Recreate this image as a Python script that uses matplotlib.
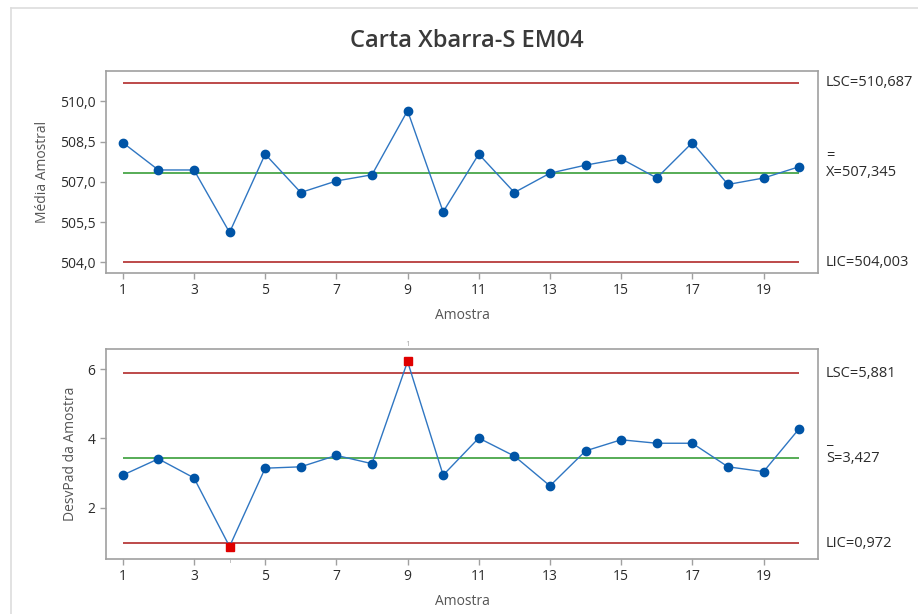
import matplotlib.pyplot as plt
from matplotlib.lines import Line2D

# dados das amostras
amostras = list(range(1, 21))
medias = [508.46, 507.44, 507.44, 505.11, 508.03, 506.60, 507.03, 507.26, 509.65, 505.88,
          508.03, 506.60, 507.32, 507.62, 507.86, 507.14, 508.46, 506.90, 507.14, 507.56]
desvios = [2.94, 3.41, 2.86, 0.88, 3.14, 3.18, 3.51, 3.27, 6.22, 2.94,
           4.01, 3.49, 2.63, 3.64, 3.96, 3.86, 3.86, 3.18, 3.04, 4.28]

# limites de controle
xbar_lsc, xbar_lc, xbar_lic = 510.687, 507.345, 504.003
s_lsc, s_lc, s_lic = 5.881, 3.427, 0.972
fora_controle = [4, 9]  # amostras fora dos limites na carta S

x_ticks = [1, 3, 5, 7, 9, 11, 13, 15, 17, 19]
xbar_ticks = [504.0, 505.5, 507.0, 508.5, 510.0]
s_ticks = [2, 4, 6]

plt.rcParams['font.family'] = ['Open Sans', 'DejaVu Sans']

COR_LINHA = '#2f76c2'
COR_PONTO = '#0054a6'
COR_LIM = '#b22a2a'
COR_CENTRO = '#3a9e3a'
COR_EIXO = '#a0a0a0'
COR_TXT = '#2b2b2b'

fig = plt.figure(figsize=(9.18, 6.14), dpi=100)

# moldura cinza clara do painel
fig.add_artist(Line2D([11 / 918, 11 / 918], [0, 1 - 8 / 614], color='#dddddd', lw=1.2))
fig.add_artist(Line2D([11 / 918, 1], [1 - 8 / 614, 1 - 8 / 614], color='#dddddd', lw=1.2))

fig.text(0.508, 1 - 41 / 614, 'Carta Xbarra-S EM04', ha='center', va='center',
         fontsize=17, fontweight='semibold', color='#3a3a3a')

ax1 = fig.add_axes([0.1155, 0.5554, 0.7756, 0.329])
ax2 = fig.add_axes([0.1155, 0.0896, 0.7756, 0.342])


def estilo(ax, yticks, fmt):
    for sp in ax.spines.values():
        sp.set_color(COR_EIXO)
        sp.set_linewidth(1.2)
    ax.set_xlim(0.53, 20.53)
    ax.set_xticks(x_ticks)
    ax.set_yticks(yticks)
    ax.set_yticklabels([fmt(v).replace('.', ',') for v in yticks])
    ax.tick_params(colors=COR_EIXO, labelcolor=COR_TXT, labelsize=10, length=4, width=1)
    ax.set_xlabel('Amostra', fontsize=10, color='#555555', labelpad=7)


def limites(ax, lsc, lc, lic):
    ax.hlines([lsc, lic], 1, 20, color=COR_LIM, lw=1.2, zorder=2)
    ax.hlines(lc, 1, 20, color=COR_CENTRO, lw=1.2, zorder=2)


def rotulo(ax, y, texto):
    ax.text(1.011, y, texto, transform=ax.get_yaxis_transform(),
            va='center', fontsize=10.5, color=COR_TXT)


# carta X-barra
limites(ax1, xbar_lsc, xbar_lc, xbar_lic)
ax1.plot(amostras, medias, '-', color=COR_LINHA, lw=1, zorder=3)
ax1.plot(amostras, medias, 'o', color=COR_PONTO, ms=6, zorder=4)
ax1.set_ylim(503.6, 511.13)
estilo(ax1, xbar_ticks, lambda v: f'{v:.1f}')
ax1.set_ylabel('Média Amostral', fontsize=10, color='#555555', labelpad=7)
rotulo(ax1, xbar_lsc, 'LSC=510,687')
rotulo(ax1, xbar_lc + 0.62, '=')
rotulo(ax1, xbar_lc, 'X=507,345')
rotulo(ax1, xbar_lic, 'LIC=504,003')

# carta S
limites(ax2, s_lsc, s_lc, s_lic)
ax2.plot(amostras, desvios, '-', color=COR_LINHA, lw=1, zorder=3)
ok = [i for i in amostras if i not in fora_controle]
ax2.plot(ok, [desvios[i - 1] for i in ok], 'o', color=COR_PONTO, ms=6, zorder=4)
ax2.plot(fora_controle, [desvios[i - 1] for i in fora_controle], 's',
         color='#e00000', ms=6, zorder=5)
ax2.set_ylim(0.52, 6.58)
estilo(ax2, s_ticks, lambda v: f'{v:d}')
ax2.set_ylabel('DesvPad da Amostra', fontsize=10, color='#555555', labelpad=7)
for i in fora_controle:
    acima = desvios[i - 1] > s_lc
    ax2.annotate('1', (i, desvios[i - 1]), xytext=(0, 12 if acima else -11),
                 textcoords='offset points', ha='center', va='center',
                 fontsize=6, color='#aaaaaa', annotation_clip=False)
rotulo(ax2, s_lsc, 'LSC=5,881')
rotulo(ax2, s_lc + 0.5, '_')
rotulo(ax2, s_lc, 'S=3,427')
rotulo(ax2, s_lic, 'LIC=0,972')

fig.savefig('out.png', dpi=100)
